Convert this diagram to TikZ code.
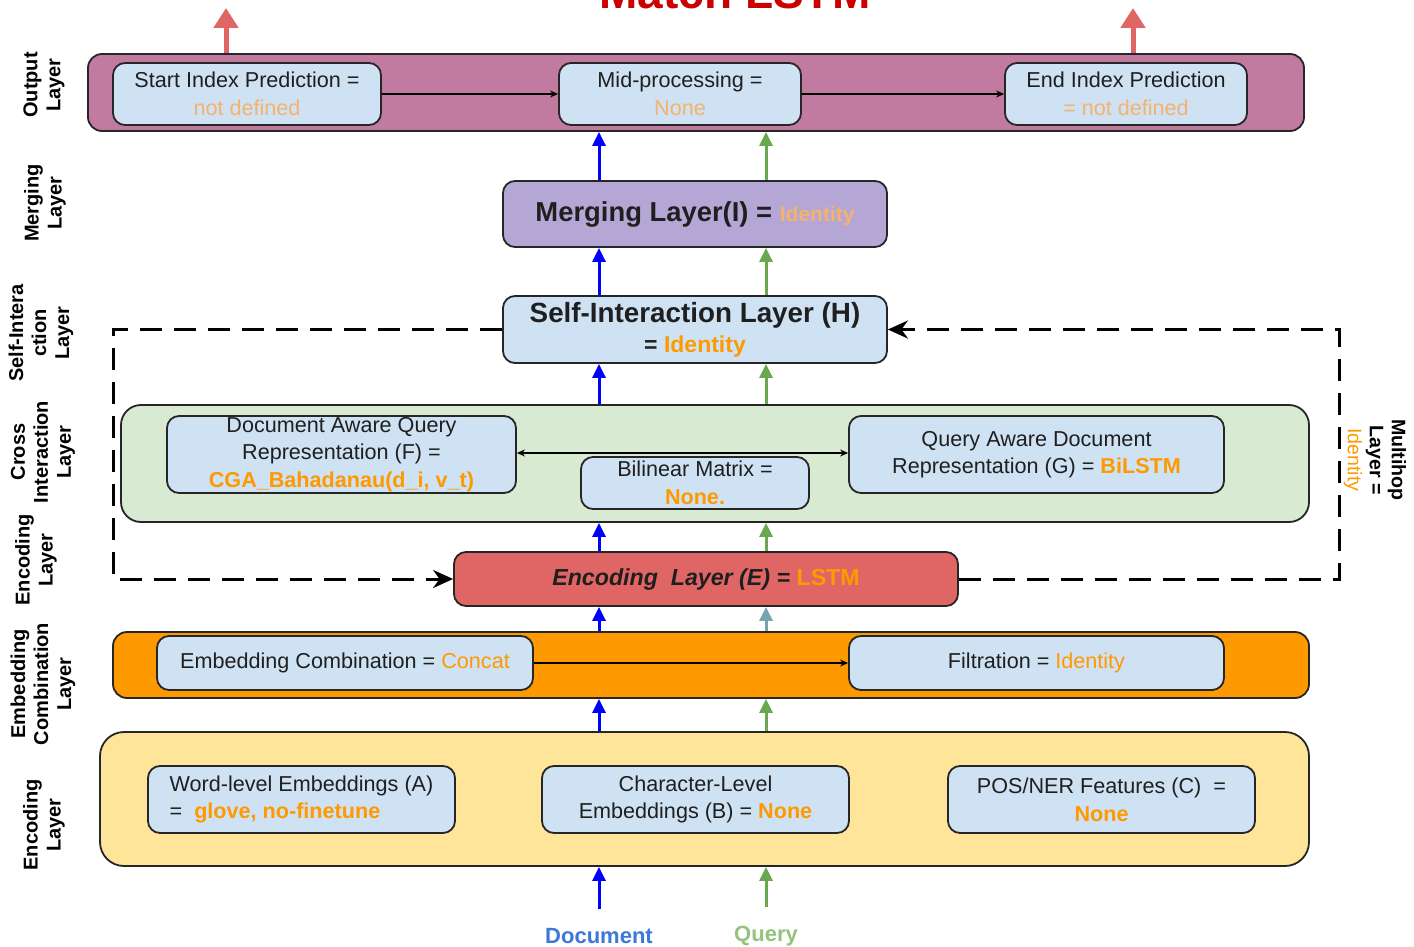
\documentclass[tikz,border=0pt]{standalone}
\usepackage{fontspec}
\setmainfont{Liberation Sans}
\usetikzlibrary{arrows.meta}

\definecolor{outfill}{HTML}{C27BA0}
\definecolor{boxblue}{HTML}{CFE2F3}
\definecolor{mergefill}{HTML}{B4A7D6}
\definecolor{crossfill}{HTML}{D9EAD3}
\definecolor{encfill}{HTML}{E06666}
\definecolor{combfill}{HTML}{FF9900}
\definecolor{embfill}{HTML}{FFE599}
\definecolor{accent}{HTML}{FF9900}
\definecolor{accentlight}{HTML}{F6B26B}
\definecolor{docblue}{HTML}{0000FF}
\definecolor{qgreen}{HTML}{6AA84F}
\definecolor{qteal}{HTML}{76A5AF}
\definecolor{outred}{HTML}{E06666}
\definecolor{doclabel}{HTML}{3C78D8}
\definecolor{qlabel}{HTML}{93C47D}
\definecolor{edgec}{HTML}{262626}
\definecolor{textc}{HTML}{1F1F1F}
\definecolor{titlered}{HTML}{CC0000}

\newcommand{\orng}[1]{\textcolor{accent}{#1}}

\tikzset{
  layer/.style={draw=edgec, line width=0.9pt, rounded corners=7pt, inner sep=0pt},
  box/.style={draw=edgec, line width=0.9pt, rounded corners=6pt, fill=boxblue,
    align=center, inner sep=0pt, text=textc,
    font=\fontsize{10.8}{13.8}\selectfont},
  sidelabel/.style={rotate=90, align=center, text=black,
    font=\fontsize{10}{11.5}\selectfont\bfseries},
  docarrow/.style={draw=docblue, line width=1.5pt,
    -{Triangle[width=6.5pt,length=7pt]}},
  qarrow/.style={draw=qgreen, line width=1.5pt,
    -{Triangle[width=6.5pt,length=7pt]}},
  qtarrow/.style={draw=qteal, line width=1.5pt,
    -{Triangle[width=6.5pt,length=7pt]}},
  outarrow/.style={draw=outred, line width=2.5pt,
    -{Triangle[width=12pt,length=10pt]}},
  thin/.style={draw=black, line width=0.6pt,
    -{Stealth[length=4pt,width=3.5pt]}},
  hop/.style={draw=black, line width=1.5pt, dash pattern=on 11pt off 6pt,
    -{Stealth[length=10pt,width=9pt]}},
}

\begin{document}
\begin{tikzpicture}[x=0.5pt, y=-0.5pt]
\clip (0,0) rectangle (1414,947);
\fill[white] (0,0) rectangle (1414,947);

% title, cut by the top edge
\node[anchor=base, text=titlered, font=\fontsize{23}{27}\selectfont\bfseries]
  (title) at (735,9) {Match LSTM};

% column positions of the two streams
\coordinate (dx) at (599,0);
\coordinate (qx) at (766,0);

% ---------- output layer ----------
\node[layer, fill=outfill, minimum width=608pt, minimum height=38.5pt] (out) at (696,92.5) {};
\node[box, minimum width=134pt, minimum height=31pt] (start) at (247,94)
  {Start Index Prediction =\\\textcolor{accentlight}{not defined}};
\node[box, minimum width=121pt, minimum height=31pt] (mid) at (680,94)
  {Mid-processing =\\\textcolor{accentlight}{None}};
\node[box, minimum width=121pt, minimum height=31pt] (end) at (1126,94)
  {End Index Prediction\\\textcolor{accentlight}{= not defined}};
\draw[thin] (start.east) -- (mid.west);
\draw[thin] (mid.east) -- (end.west);
\coordinate (sOut) at (226,8);
\coordinate (eOut) at (1133,8);
\draw[outarrow] (out.north -| sOut) -- (sOut);
\draw[outarrow] (out.north -| eOut) -- (eOut);

% ---------- merging layer ----------
\node[layer, fill=mergefill, rounded corners=6pt, minimum width=192pt, minimum height=33pt,
  text=textc] (merge) at (695,214)
  {\fontsize{13.7}{16}\selectfont\bfseries Merging Layer(I) = {\fontsize{10.5}{12}\selectfont\textcolor{accentlight}{Identity}}};

% ---------- self-interaction layer ----------
\node[box, minimum width=192pt, minimum height=33.5pt, font=\bfseries] (selfint) at (695,329.5)
  {{\fontsize{13.9}{16.5}\selectfont Self-Interaction Layer (H)}\\[3pt]{\fontsize{11.5}{14}\selectfont = \orng{Identity}}};

% ---------- cross interaction layer ----------
\node[layer, fill=crossfill, rounded corners=10pt, minimum width=594pt, minimum height=58.5pt] (cross) at (715,463.5) {};
\node[box, minimum width=174.5pt, minimum height=38.5pt] (fbox) at (341.5,454.5)
  {Document Aware Query\\Representation (F) =\\\orng{\textbf{CGA\_Bahadanau(d\_i, v\_t)}}};
\node[box, minimum width=114pt, minimum height=26pt] (bilin) at (695,483)
  {Bilinear Matrix =\\\orng{\textbf{None.}}};
\node[box, minimum width=187.5pt, minimum height=38.5pt] (gbox) at (1036.5,454.5)
  {Query Aware Document\\Representation (G) = \orng{\textbf{BiLSTM}}};
\draw[draw=black, line width=0.6pt, {Stealth[length=4pt,width=3.5pt]}-{Stealth[length=4pt,width=3.5pt]}]
  (fbox.east |- 0,453) -- (gbox.west |- 0,453);

% ---------- encoding layer (E) ----------
\node[layer, fill=encfill, rounded corners=6pt, minimum width=252pt, minimum height=27pt, text=textc] (enc) at (706,579)
  {\fontsize{11.6}{14}\selectfont{\bfseries\itshape Encoding\ \ Layer (E) =} \orng{\bfseries LSTM}};

% ---------- embedding combination layer ----------
\node[layer, fill=combfill, minimum width=598pt, minimum height=33pt] (embc) at (711,665) {};
\node[box, minimum width=188pt, minimum height=27pt] (combo) at (345,663)
  {Embedding Combination = \orng{Concat}};
\node[box, minimum width=187.5pt, minimum height=27pt] (filt) at (1036.5,663)
  {Filtration = \orng{Identity}};
\draw[thin] (combo.east) -- (filt.west);

% ---------- embedding (input encoding) layer ----------
\node[layer, fill=embfill, rounded corners=12pt, minimum width=604.5pt, minimum height=67pt] (embl) at (704.5,799) {};
\node[box, align=left, minimum width=153.5pt, minimum height=33.5pt] (word) at (301.5,799.5)
  {Word-level Embeddings (A)\\=\ \ \orng{\textbf{glove, no-finetune}}};
\node[box, minimum width=153.5pt, minimum height=33.5pt] (char) at (695.5,799.5)
  {Character-Level\\Embeddings (B) = \orng{\textbf{None}}};
\node[box, minimum width=153.5pt, minimum height=33.5pt] (pos) at (1101.5,799.5)
  {POS/NER Features (C)\ \ =\\\orng{\textbf{None}}};

% ---------- inputs ----------
\node[text=doclabel, font=\fontsize{11}{13}\selectfont\bfseries] (doc) at (599,936) {Document};
\node[text=qlabel, font=\fontsize{11}{13}\selectfont\bfseries] (query) at (766,936) {Query};

% ---------- stream arrows ----------
\draw[docarrow, shorten <=6pt] (doc.north) -- (embl.south -| doc);
\draw[qarrow, shorten <=6pt] (query.north) -- (embl.south -| query);
\draw[docarrow] (embl.north -| dx) -- (embc.south -| dx);
\draw[qarrow] (embl.north -| qx) -- (embc.south -| qx);
\draw[docarrow] (embc.north -| dx) -- (enc.south -| dx);
\draw[qtarrow] (embc.north -| qx) -- (enc.south -| qx);
\draw[docarrow] (enc.north -| dx) -- (cross.south -| dx);
\draw[qarrow] (enc.north -| qx) -- (cross.south -| qx);
\draw[docarrow] (cross.north -| dx) -- (selfint.south -| dx);
\draw[qarrow] (cross.north -| qx) -- (selfint.south -| qx);
\draw[docarrow] (selfint.north -| dx) -- (merge.south -| dx);
\draw[qarrow] (selfint.north -| qx) -- (merge.south -| qx);
\draw[docarrow] (merge.north -| dx) -- (out.south -| dx);
\draw[qarrow] (merge.north -| qx) -- (out.south -| qx);

% ---------- multihop loop ----------
\coordinate (lx) at (113,450);
\coordinate (rx) at (1339,450);
\draw[hop] (selfint.west) -| (lx) |- (enc.west);
\draw[hop] (enc.east) -| (rx) |- (selfint.east);
\node[rotate=-90, align=center, text=black, font=\fontsize{9.8}{11}\selectfont] (multihop) at (1375,460)
  {\textbf{Multihop}\\\textbf{Layer =}\\\orng{Identity}};

% ---------- layer names ----------
\node[sidelabel] (lblOut) at (44,85) {Output\\Layer};
\node[sidelabel] (lblMerge) at (45,203) {Merging\\Layer};
\node[sidelabel] (lblSelf) at (41,333) {Self-Intera\\ction\\Layer};
\node[sidelabel] (lblCross) at (43,452) {Cross\\Interaction\\Layer};
\node[sidelabel] (lblEncE) at (36,560) {Encoding\\Layer};
\node[sidelabel] (lblComb) at (43,684) {Embedding\\Combination\\Layer};
\node[sidelabel] (lblEmb) at (44,825) {Encoding\\Layer};
\end{tikzpicture}
\end{document}
